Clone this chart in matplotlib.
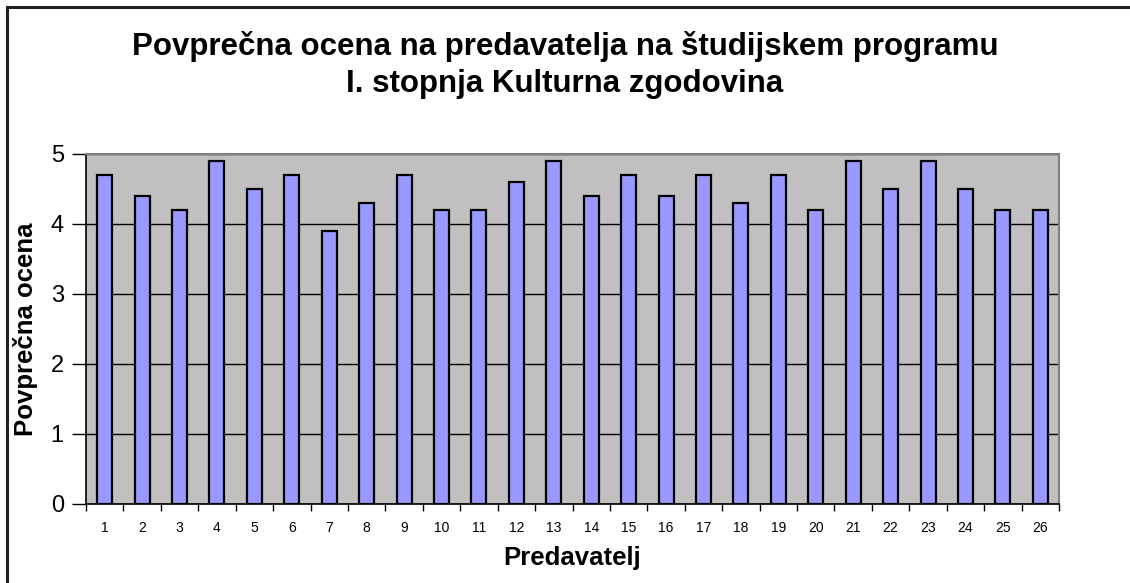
import matplotlib
matplotlib.use("Agg")
import matplotlib.pyplot as plt
from matplotlib.patches import Rectangle
import numpy as np

plt.rcParams['font.family'] = ['Liberation Sans', 'DejaVu Sans']

# data
predavatelji = [str(i) for i in range(1, 27)]
ocene = [4.7, 4.4, 4.2, 4.9, 4.5, 4.7, 3.9, 4.3, 4.7, 4.2, 4.2, 4.6, 4.9,
         4.4, 4.7, 4.4, 4.7, 4.3, 4.7, 4.2, 4.9, 4.5, 4.9, 4.5, 4.2, 4.2]
y_ticks = [0, 1, 2, 3, 4, 5]

W, H = 1130, 583
fig = plt.figure(figsize=(W / 100, H / 100), dpi=100)
ax = fig.add_axes([86 / W, 1 - 504 / H, (1059 - 86) / W, (504 - 154) / H])

# outer frame of the chart object
fig.patches.append(Rectangle((7 / W, -0.05), 1.2, 1 - 6.5 / H + 0.05,
                             transform=fig.transFigure, fill=False,
                             edgecolor='#222222', linewidth=2.2))

x = np.arange(1, len(ocene) + 1)
ax.set_facecolor('#C0C0C0')
ax.bar(x, ocene, width=0.4, color='#9999FF', edgecolor='black',
       linewidth=1.6, zorder=3)

ax.set_xlim(0.5, len(ocene) + 0.5)
ax.set_ylim(0, 5)
ax.set_yticks(y_ticks)
ax.yaxis.grid(True, color='black', linewidth=1.0, zorder=1)
ax.set_axisbelow(True)

ax.set_xticks(x)
ax.set_xticklabels(predavatelji, fontsize=10)
ax.set_xticks(np.arange(0.5, len(ocene) + 1), minor=True)
ax.tick_params(axis='x', which='major', length=0, pad=12)
ax.tick_params(axis='x', which='minor', length=5, width=1, color='black')
ax.tick_params(axis='y', length=10, width=1, labelsize=17, pad=6)

for s in ['top', 'right']:
    ax.spines[s].set_color('#808080')
    ax.spines[s].set_linewidth(1.5)
for s in ['left', 'bottom']:
    ax.spines[s].set_color('black')
    ax.spines[s].set_linewidth(1.2)

ax.set_xlabel('Predavatelj', fontsize=18.5, fontweight='bold', labelpad=8)
ax.set_ylabel('Povprečna ocena', fontsize=18.5, fontweight='bold', labelpad=9)

fig.text(0.5, 1 - 46 / H, 'Povprečna ocena na predavatelja na študijskem programu',
         ha='center', va='center', fontsize=22.5, fontweight='bold')
fig.text(0.5, 1 - 84 / H, 'I. stopnja Kulturna zgodovina',
         ha='center', va='center', fontsize=22.5, fontweight='bold')

fig.savefig('out.png', dpi=100)
